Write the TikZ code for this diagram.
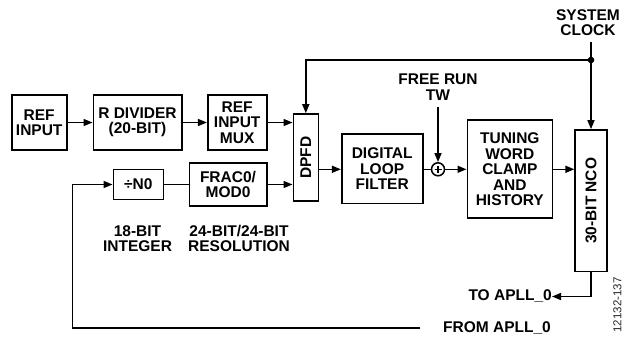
\documentclass[tikz,border=0pt]{standalone}
\usepackage{fontspec}
\setmainfont{Liberation Sans}
\usetikzlibrary{arrows.meta}
\begin{document}
\begin{tikzpicture}[x=1pt,y=-1pt,
  lbl/.style={font=\fontsize{15.5}{15.5}\selectfont\bfseries, align=center, inner sep=0pt},
  blk/.style={draw, line width=1.6pt, inner sep=0pt},
  conn/.style={line width=1.5pt},
  arr/.style={conn, -{Triangle[length=9pt,width=7pt]}}]
\useasboundingbox (0,0) rectangle (623,339);
% blocks
\node[blk, lbl, minimum width=55pt, minimum height=55pt] (refin) at (39.2,122.5) {REF\\INPUT};
\node[blk, lbl, minimum width=88.4pt, minimum height=55pt] (rdiv) at (137.5,122.5) {R DIVIDER\\(20-BIT)};
\node[blk, lbl, minimum width=59pt, minimum height=55pt] (mux) at (237.2,122.5) {REF\\INPUT\\MUX};
\node[blk, minimum width=25pt, minimum height=87pt] (dpfd) at (305.8,157.5) {};
\node[lbl, rotate=90] at (dpfd.center) {DPFD};
\node[blk, lbl, minimum width=50pt, minimum height=30pt] (n0) at (138.3,184.5) {÷N0};
\node[blk, lbl, minimum width=77.4pt, minimum height=43.4pt] (frac) at (228,184.5) {FRAC0/\\MOD0};
\node[blk, lbl, minimum width=81pt, minimum height=69.3pt] (dlf) at (382.2,168.7) {DIGITAL\\LOOP\\FILTER};
\node[draw, circle, line width=1.5pt, minimum size=13pt, inner sep=0pt] (sum) at (438,169.3) {};
\draw[line width=1.3pt] ([xshift=-3.5pt]sum.center) -- ([xshift=3.5pt]sum.center)
  ([yshift=-3.5pt]sum.center) -- ([yshift=3.5pt]sum.center);
\node[blk, lbl, minimum width=85pt, minimum height=98pt] (twc) at (509.8,169.2) {TUNING\\WORD\\CLAMP\\AND\\HISTORY};
\node[blk, minimum width=31.7pt, minimum height=141.7pt] (nco) at (591,200.8) {};
\node[lbl, rotate=90] at (nco.center) {30-BIT NCO};
% labels
\node[lbl] (intlbl) at (137.5,238.5) {18-BIT\\INTEGER};
\node[lbl] (reslbl) at (239,238.5) {24-BIT/24-BIT\\RESOLUTION};
\node[lbl] (fr) at (438,87) {FREE RUN\\TW};
\node[lbl] (sc) at (588,22.7) {SYSTEM\\CLOCK};
\node[lbl, anchor=east] (toapll) at (552,296.5) {TO APLL\_0};
\node[lbl, anchor=west] (fromapll) at (443,328) {FROM APLL\_0};
\node[font=\fontsize{11.5}{12}\selectfont, rotate=90, inner sep=0pt, text=black!85] (fig) at (617.5,305) {12132-137};
% connectors
\draw[arr] (refin) -- (rdiv);
\draw[arr] (rdiv) -- (mux);
\draw[arr] (mux.east) -- (mux.east -| dpfd.west);
\draw[conn] (n0) -- (frac);
\draw[arr] (frac.east) -- (frac.east -| dpfd.west);
\coordinate (dot) at (591,60);
\draw[conn] ([yshift=-6pt]sc.south -| nco.north) -- (dot);
\draw[arr] (dot) -- (nco.north);
\draw[arr] (dot) -| (dpfd.north);
\fill (dot) circle (3.3pt);
\draw[arr] (dpfd.east |- sum) -- (dlf.west |- sum);
\draw[conn] (dlf.east |- sum) -- (sum.west);
\draw[arr] ([yshift=-7pt]fr.south) -- (sum.north);
\draw[arr] (sum.east) -- (sum.east -| twc.west);
\draw[arr] (twc.east |- sum) -- (nco.west |- sum);
\draw[arr] (nco.south) |- (toapll.east);
\draw[arr] ([xshift=-23pt]fromapll.west) -| ([xshift=-40pt]n0.west) -- (n0.west);
\end{tikzpicture}
\end{document}
